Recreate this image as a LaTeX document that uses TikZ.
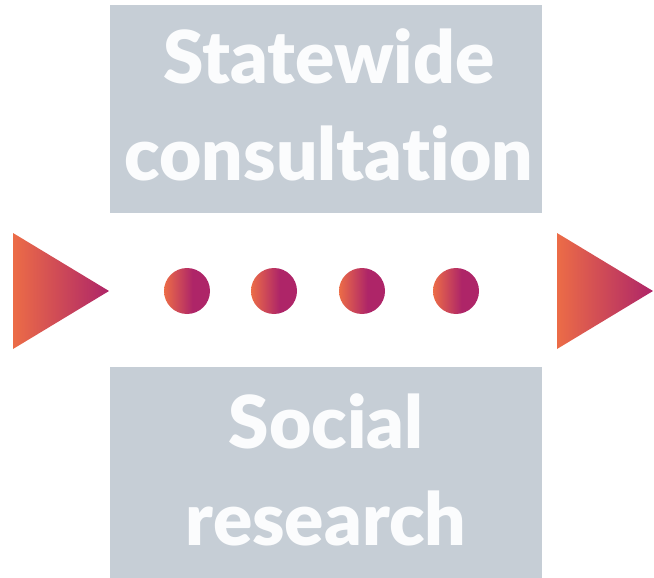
\documentclass[tikz,border=0pt]{standalone}
\usepackage{fontspec}
\newfontfamily\heavyfont{Lato Black}[Ligatures=NoCommon]
\definecolor{orng}{HTML}{EC6C47}
\definecolor{mag}{HTML}{AE2568}
\definecolor{boxgray}{HTML}{C6CED6}
\definecolor{txt}{HTML}{FBFCFD}
\pgfdeclarehorizontalshading{dotshade}{100bp}{color(0bp)=(orng); color(25bp)=(orng); color(56bp)=(mag); color(100bp)=(mag)}
\tikzset{
  panel/.style={fill=boxgray, draw=none, inner sep=0pt, minimum width=432pt},
  paneltext/.style={text=txt, align=center, anchor=base, inner sep=0pt,
    font={\heavyfont\fontsize{73}{97}\selectfont}},
  dotmark/.style={circle, minimum size=46pt, inner sep=0pt, shading=dotshade},
  tri/.style={left color=orng, right color=mag, draw=none}
}
\begin{document}
\begin{tikzpicture}[x=1pt,y=-1pt]
\useasboundingbox (0,0) rectangle (654,578);
\node[panel, minimum height=208pt] (top) at (326,109) {};
\node[panel, minimum height=211pt] (bottom) at (326,472.5) {};
\node[paneltext] (toptext) at (329,180) {Statewide\\consultation};
\node[paneltext] (bottomtext) at (326,545) {Social\\research};
\shade[tri] (13,233) -- (109,291) -- (13,349) -- cycle;
\shade[tri] (557,233) -- (653,291) -- (557,349) -- cycle;
\node[dotmark] (d1) at (187,291) {};
\node[dotmark] (d2) at (274,291) {};
\node[dotmark] (d3) at (362,291) {};
\node[dotmark] (d4) at (456,291) {};
\end{tikzpicture}
\end{document}
